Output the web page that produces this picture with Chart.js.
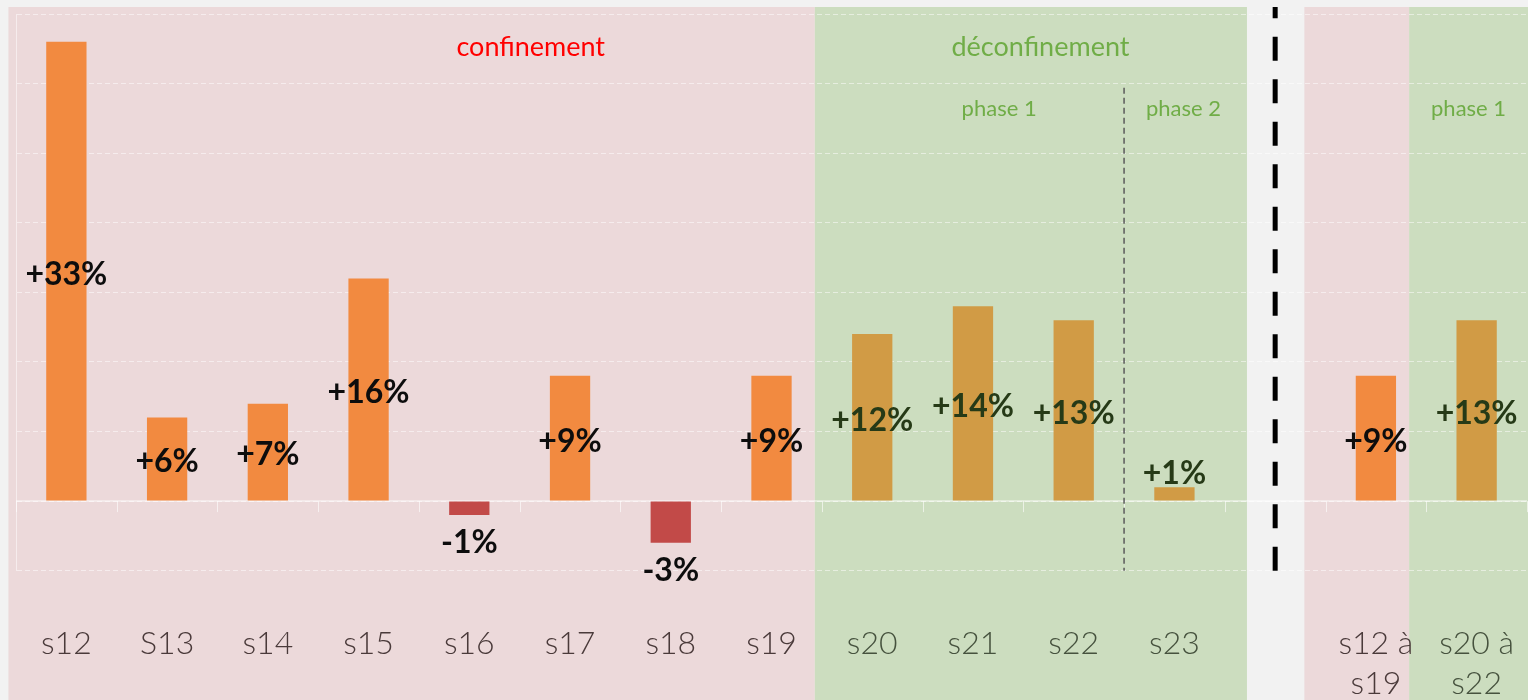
<!DOCTYPE html>
<html><head><meta charset="utf-8">
<script src="https://cdn.jsdelivr.net/npm/chart.js@4/dist/chart.umd.min.js"></script>
<style>html,body{margin:0;padding:0;background:#F2F2F2;overflow:hidden}canvas{display:block}</style>
</head><body><canvas id="c" width="1528" height="700"></canvas>
<script>
const categories = ['s12','S13','s14','s15','s16','s17','s18','s19','s20','s21','s22','s23','',['s12 à','s19'],['s20 à','s22']];
const values = [33,6,7,16,-1,9,-3,9,12,14,13,1,null,9,13];
const periods = ['conf','conf','conf','conf','conf','conf','conf','conf','deconf','deconf','deconf','deconf','gap','conf','deconf'];
const valueLabels = ['+33%','+6%','+7%','+16%','-1%','+9%','-3%','+9%','+12%','+14%','+13%','+1%','','+9%','+13%'];
const yTicks = [-5,0,5,10,15,20,25,30,35];

const COL = {orange:'#F28A40', red:'#C24A48', gold:'#D19B45'};
const barColors = values.map((v,i)=> periods[i]==='deconf' ? COL.gold : (v<0 ? COL.red : COL.orange));
const labelColors = periods.map(p=> p==='deconf' ? '#263A17' : '#0D0D0D');
const tickColors = periods.map(p=> p==='deconf' ? '#46523E' : '#4A3A3A');

const decor = {
  id:'decor',
  beforeDraw(chart){
    const {ctx, scales:{x}} = chart;
    const bands = [[-0.575,7.43,'#ECD9DA'],[7.43,11.72,'#CCDDBF'],[12.29,13.33,'#ECD9DA'],[13.33,14.7,'#CCDDBF']];
    ctx.save();
    bands.forEach(([a,b,c])=>{
      const x0=x.getPixelForValue(a), x1=x.getPixelForValue(b);
      ctx.fillStyle=c; ctx.fillRect(x0,7,x1-x0,chart.height-7);
    });
    ctx.restore();
  },
  beforeDatasetsDraw(chart){
    const {ctx, chartArea:ca, scales:{x,y}} = chart;
    const y0 = y.getPixelForValue(0);
    ctx.save();
    ctx.strokeStyle='rgba(255,255,255,0.6)';
    ctx.lineWidth=1.5;
    ctx.beginPath(); ctx.moveTo(ca.left,y0); ctx.lineTo(ca.right,y0); ctx.stroke();
    ctx.lineWidth=1;
    for(let i=0;i<=categories.length;i++){
      const px = Math.round(x.getPixelForValue(i-0.5))+0.5;
      ctx.beginPath(); ctx.moveTo(px,y0); ctx.lineTo(px,y0+11); ctx.stroke();
    }
    ctx.restore();
  },
  afterDatasetsDraw(chart){
    const {ctx, scales:{x,y}} = chart;
    const meta = chart.getDatasetMeta(0);
    ctx.save();
    ctx.textAlign='center';
    ctx.font='bold 32px Lato, "DejaVu Sans", sans-serif';
    meta.data.forEach((bar,i)=>{
      const v = values[i];
      if(v===null) return;
      ctx.fillStyle = labelColors[i];
      if(Math.abs(v) >= 5){
        ctx.textBaseline='middle';
        ctx.fillText(valueLabels[i], bar.x, (bar.y+bar.base)/2+3);
      } else if(v>0){
        ctx.textBaseline='bottom';
        ctx.fillText(valueLabels[i], bar.x, bar.y+2);
      } else {
        ctx.textBaseline='top';
        ctx.fillText(valueLabels[i], bar.x, bar.y+12);
      }
    });
    const xs = x.getPixelForValue(10.5);
    ctx.strokeStyle='#5A5A5A'; ctx.lineWidth=1.5; ctx.setLineDash([6,4]);
    ctx.beginPath(); ctx.moveTo(xs,y.getPixelForValue(29.7)); ctx.lineTo(xs,y.getPixelForValue(-5)); ctx.stroke();
    const xg = x.getPixelForValue(12);
    ctx.strokeStyle='#000'; ctx.lineWidth=5; ctx.setLineDash([24,18.5]);
    ctx.beginPath(); ctx.moveTo(xg,y.getPixelForValue(-5)); ctx.lineTo(xg,7); ctx.stroke();
    ctx.setLineDash([]);
    ctx.textBaseline='middle';
    ctx.font='27px Lato, "DejaVu Sans", sans-serif';
    ctx.fillStyle='#FF0000';
    ctx.fillText('confinement', x.getPixelForValue(4.61), y.getPixelForValue(32.6));
    ctx.fillStyle='#70AD47';
    ctx.fillText('déconfinement', x.getPixelForValue(9.67), y.getPixelForValue(32.6));
    ctx.font='22px Lato, "DejaVu Sans", sans-serif';
    ctx.fillText('phase 1', x.getPixelForValue(9.26), y.getPixelForValue(28.2));
    ctx.fillText('phase 2', x.getPixelForValue(11.09), y.getPixelForValue(28.2));
    ctx.fillText('phase 1', x.getPixelForValue(13.92), y.getPixelForValue(28.2));
    ctx.restore();
  }
};

new Chart(document.getElementById('c'), {
  type:'bar',
  data:{
    labels: categories,
    datasets:[{data: values, backgroundColor: barColors, borderWidth:0, barPercentage:0.4, categoryPercentage:1}]
  },
  options:{
    responsive:false,
    animation:false,
    layout:{padding:{left:16,right:1,top:14,bottom:0}},
    plugins:{legend:{display:false}, tooltip:{enabled:false}, title:{display:false}},
    scales:{
      x:{
        grid:{display:false},
        border:{display:false},
        ticks:{
          autoSkip:false, maxRotation:0, padding:45,
          color:(c)=>tickColors[c.index],
          font:{family:'Lato, "DejaVu Sans", sans-serif', size:32, weight:'300', lineHeight:1.25}
        },
        afterFit(scale){ scale.height = 129.3; scale.paddingLeft = 0; scale.paddingRight = 0; }
      },
      y:{
        min:-5, max:35,
        afterBuildTicks(scale){ scale.ticks = yTicks.map(v=>({value:v})); },
        afterFit(scale){ scale.width = 0; },
        ticks:{display:false},
        grid:{color:'rgba(255,255,255,0.5)', lineWidth:1, drawTicks:false},
        border:{display:true, color:'rgba(255,255,255,0.5)', dash:[5,3]}
      }
    }
  },
  plugins:[decor]
});
</script>
</body></html>
